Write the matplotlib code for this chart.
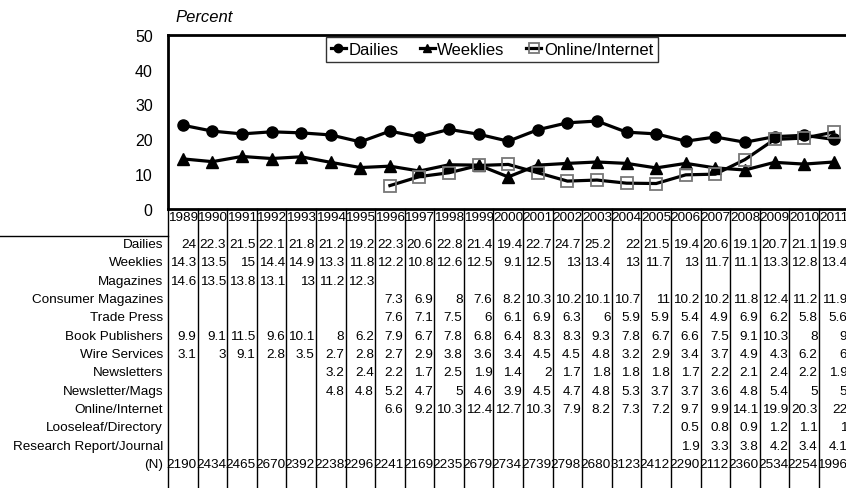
import matplotlib
matplotlib.use("Agg")
import matplotlib.pyplot as plt
import matplotlib.transforms as mtransforms
from matplotlib.lines import Line2D
import numpy as np

plt.rcParams['font.family'] = ['Liberation Sans', 'DejaVu Sans']

years = [str(y) for y in range(1989, 2012)]
N = None

dailies = [24, 22.3, 21.5, 22.1, 21.8, 21.2, 19.2, 22.3, 20.6, 22.8, 21.4, 19.4,
           22.7, 24.7, 25.2, 22, 21.5, 19.4, 20.6, 19.1, 20.7, 21.1, 19.9]
weeklies = [14.3, 13.5, 15, 14.4, 14.9, 13.3, 11.8, 12.2, 10.8, 12.6, 12.5, 9.1,
            12.5, 13, 13.4, 13, 11.7, 13, 11.7, 11.1, 13.3, 12.8, 13.4]
magazines = [14.6, 13.5, 13.8, 13.1, 13, 11.2, 12.3] + [N] * 16
consumer_mags = [N] * 7 + [7.3, 6.9, 8, 7.6, 8.2, 10.3, 10.2, 10.1, 10.7, 11, 10.2,
                           10.2, 11.8, 12.4, 11.2, 11.9]
trade_press = [N] * 7 + [7.6, 7.1, 7.5, 6, 6.1, 6.9, 6.3, 6, 5.9, 5.9, 5.4, 4.9,
                         6.9, 6.2, 5.8, 5.6]
book_publishers = [9.9, 9.1, 11.5, 9.6, 10.1, 8, 6.2, 7.9, 6.7, 7.8, 6.8, 6.4, 8.3,
                   8.3, 9.3, 7.8, 6.7, 6.6, 7.5, 9.1, 10.3, 8, 9]
wire_services = [3.1, 3, 9.1, 2.8, 3.5, 2.7, 2.8, 2.7, 2.9, 3.8, 3.6, 3.4, 4.5, 4.5,
                 4.8, 3.2, 2.9, 3.4, 3.7, 4.9, 4.3, 6.2, 6]
newsletters = [N] * 5 + [3.2, 2.4, 2.2, 1.7, 2.5, 1.9, 1.4, 2, 1.7, 1.8, 1.8, 1.8,
                         1.7, 2.2, 2.1, 2.4, 2.2, 1.9]
newsletter_mags = [N] * 5 + [4.8, 4.8, 5.2, 4.7, 5, 4.6, 3.9, 4.5, 4.7, 4.8, 5.3,
                             3.7, 3.7, 3.6, 4.8, 5.4, 5, 5]
online = [N] * 7 + [6.6, 9.2, 10.3, 12.4, 12.7, 10.3, 7.9, 8.2, 7.3, 7.2, 9.7, 9.9,
                    14.1, 19.9, 20.3, 22]
looseleaf = [N] * 17 + [0.5, 0.8, 0.9, 1.2, 1.1, 1]
research = [N] * 17 + [1.9, 3.3, 3.8, 4.2, 3.4, 4.1]
n_resp = [2190, 2434, 2465, 2670, 2392, 2238, 2296, 2241, 2169, 2235, 2679, 2734,
          2739, 2798, 2680, 3123, 2412, 2290, 2112, 2360, 2534, 2254, 1996]

row_labels = ["Dailies", "Weeklies", "Magazines", "Consumer Magazines", "Trade Press",
              "Book Publishers", "Wire Services", "Newsletters", "Newsletter/Mags",
              "Online/Internet", "Looseleaf/Directory", "Research Report/Journal", "(N)"]
rows = [dailies, weeklies, magazines, consumer_mags, trade_press, book_publishers,
        wire_services, newsletters, newsletter_mags, online, looseleaf, research, n_resp]

W, H = 846, 489
fig = plt.figure(figsize=(W / 100, H / 100), dpi=100)
fig.patch.set_facecolor('white')

def fy(py):
    return 1 - py / H

left_px, right_px, top_px, bot_px = 168, 848.5, 36, 209.5
ax = fig.add_axes([left_px / W, fy(bot_px), (right_px - left_px) / W, (bot_px - top_px) / H])

x = np.arange(len(years))
def arr(v):
    return np.array([np.nan if a is None else a for a in v], dtype=float)

ax.plot(x, arr(dailies), color='black', lw=2.3, marker='o', ms=8, mfc='black',
        mec='black', label='Dailies')
ax.plot(x, arr(weeklies), color='black', lw=2.3, marker='^', ms=8, mfc='black',
        mec='black', label='Weeklies')
ax.plot(x, arr(online), color='black', lw=2.3, marker='s', ms=9, mfc='none',
        mec='#777777', mew=1.3, label='Online/Internet')

ax.set_xlim(-0.5, len(years) - 0.5)
ax.set_ylim(0, 50)
ax.set_yticks(range(0, 51, 10))
ax.set_xticks([])
ax.tick_params(axis='y', length=0, pad=11, labelsize=11.5)
for s in ax.spines.values():
    s.set_linewidth(2)
    s.set_color('black')

leg = ax.legend(loc='upper center', bbox_to_anchor=(0.476, 0.988), ncol=3,
                frameon=True, fancybox=False, edgecolor='black', fontsize=12,
                handlelength=0.9, handletextpad=0.15, columnspacing=1.3,
                borderpad=0.3, borderaxespad=0.0, markerscale=0.75)
leg.get_frame().set_linewidth(1.0)

fig.text(175 / W, fy(18), "Percent", style='italic', fontsize=12, ha='left', va='center')

# Table
trans = mtransforms.blended_transform_factory(ax.transData, fig.transFigure)
fs = 9.7
for i, yr in enumerate(years):
    fig.text(i, fy(218), yr, transform=trans, ha='center', va='center', fontsize=fs)
    ln = Line2D([i - 0.5, i - 0.5], [fy(bot_px), 0], transform=trans, color='black',
                lw=1.0)
    fig.add_artist(ln)
fig.add_artist(Line2D([0, left_px / W], [fy(236.5), fy(236.5)],
                      transform=fig.transFigure, color='black', lw=1.0))

row_y0, row_dy = 245, 18.33
for r, (lab, vals) in enumerate(zip(row_labels, rows)):
    yy = fy(row_y0 + r * row_dy)
    fig.text(163 / W, yy, lab, ha='right', va='center', fontsize=fs)
    for i, v in enumerate(vals):
        if v is None:
            continue
        fig.text(i + 0.46, yy, "%g" % v, transform=trans, ha='right', va='center',
                 fontsize=fs)

fig.savefig("out.png", dpi=100)
